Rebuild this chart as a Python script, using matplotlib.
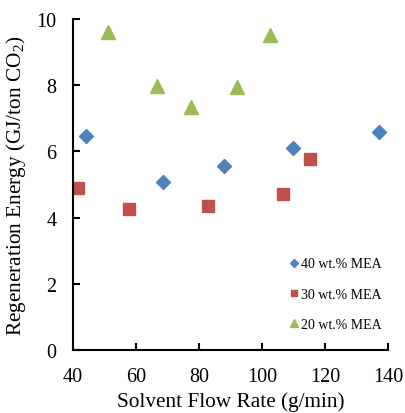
import matplotlib
matplotlib.use("Agg")
import matplotlib.pyplot as plt

x40 = [44.1, 68.6, 88.0, 109.9, 137.1]
y40 = [6.47, 5.08, 5.57, 6.09, 6.58]
x30 = [41.7, 57.8, 82.9, 106.8, 115.3]
y30 = [4.89, 4.26, 4.35, 4.71, 5.77]
x20 = [51.2, 66.7, 77.4, 92.1, 102.5]
y20 = [9.60, 7.97, 7.33, 7.94, 9.52]
labels = ["40 wt.% MEA", "30 wt.% MEA", "20 wt.% MEA"]
xticks = [40, 60, 80, 100, 120, 140]
yticks = [0, 2, 4, 6, 8, 10]

plt.rcParams['font.family'] = ['Liberation Serif', 'DejaVu Serif']
plt.rcParams['mathtext.fontset'] = 'custom'
plt.rcParams['mathtext.rm'] = 'Liberation Serif'

fig = plt.figure(figsize=(4.06, 4.14), dpi=100)
ax = fig.add_axes([0.18, 0.152, 0.7757, 0.7997])

ax.plot(x40, y40, linestyle='none', marker='D', ms=7, color='#4F81BD', label=labels[0])
ax.plot(x30, y30, linestyle='none', marker='s', ms=9, color='#C0504D', label=labels[1])
ax.plot(x20, y20, linestyle='none', marker='^', ms=10, color='#9BBB59', label=labels[2])

ax.set_xlim(40, 140)
ax.set_ylim(0, 10)
ax.set_xticks(xticks)
ax.set_yticks(yticks)
for s in ['top', 'right']:
    ax.spines[s].set_visible(False)
for s in ['left', 'bottom']:
    ax.spines[s].set_linewidth(1.5)
ax.tick_params(direction='in', length=5, width=1.5, labelsize=14.5, pad=12)
ax.set_xlabel("Solvent Flow Rate (g/min)", fontsize=15.3, labelpad=4)
ax.set_ylabel("Regeneration Energy (GJ/ton CO$_2$)", fontsize=15.3, labelpad=6)

leg = ax.legend(loc='lower right', bbox_to_anchor=(1.025, 0.015), frameon=False,
                fontsize=10, markerscale=0.55, labelspacing=1.25,
                handlelength=0.6, handletextpad=0.2, borderaxespad=0.6)

fig.savefig("out.png", dpi=100)
